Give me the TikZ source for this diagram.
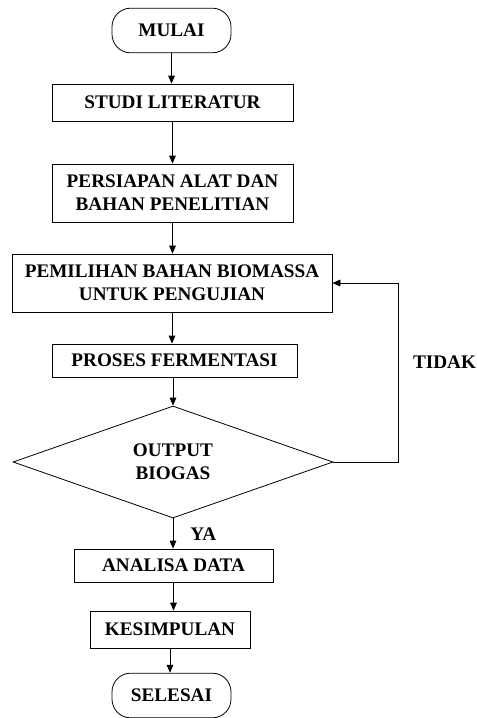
\documentclass[tikz,border=0pt]{standalone}
\usepackage{fontspec}
\setmainfont{Liberation Serif}
\usetikzlibrary{shapes.geometric,arrows.meta}
\begin{document}
\begin{tikzpicture}[x=0.75pt,y=0.75pt,yscale=-1,xscale=1,
	font=\fontsize{14.4}{17.5}\selectfont\bfseries,
	proc/.style={draw,line width=0.6pt,rectangle,align=center,inner sep=0pt},
	term/.style={draw,line width=0.6pt,rectangle,rounded corners=14pt,align=center,inner sep=0pt,minimum width=89.25pt,minimum height=33.5pt},
	arr/.style={line width=0.6pt,-{Triangle[length=6pt,width=5pt]}}]
			\useasboundingbox (0,0) rectangle (476,718);
			%Flowchart: Terminal
			\node [term] (mulai) at (171.5,30.5) {MULAI};
			%Flowchart: Process
			\node [proc,minimum width=180.75pt,minimum height=27.75pt] (studi) at (172.5,102.5) {STUDI LITERATUR};
			\node [proc,minimum width=180.75pt,minimum height=43.5pt] (persiapan) at (172.5,193) {PERSIAPAN ALAT DAN\\BAHAN PENELITIAN};
			\node [proc,minimum width=240pt,minimum height=43.5pt] (pemilihan) at (172,283) {PEMILIHAN BAHAN BIOMASSA\\UNTUK PENGUJIAN};
			\node [proc,minimum width=183.75pt,minimum height=24.75pt] (proses) at (174.5,360.5) {PROSES FERMENTASI};
			%Flowchart: Decision
			\node [draw,line width=0.6pt,diamond,aspect=2.857,inner sep=0pt,align=center,minimum width=240pt,minimum height=84pt] (output) at (173,462) {OUTPUT\\BIOGAS};
			\node [proc,minimum width=149.25pt,minimum height=24.75pt] (analisa) at (173.5,565.5) {ANALISA DATA};
			\node [proc,minimum width=120pt,minimum height=27.75pt] (kesimpulan) at (170,629.5) {KESIMPULAN};
			\node [term] (selesai) at (171.5,695.5) {SELESAI};
			%Straight Lines
			\draw [arr] (mulai.south) -- (mulai.south |- studi.north);
			\draw [arr] (studi.south) -- (studi.south |- persiapan.north);
			\draw [arr] (persiapan.south) -- (persiapan.south |- pemilihan.north);
			\draw [arr] (pemilihan.south) -- (pemilihan.south |- proses.north);
			\draw [arr] (output.north |- proses.south) -- (output.north);
			\draw [arr] (output.south) -- (output.south |- analisa.north);
			\draw [arr] (analisa.south) -- (analisa.south |- kesimpulan.north);
			\draw [arr] (kesimpulan.south) -- (kesimpulan.south |- selesai.north);
			%Loop back
			\coordinate (loop) at (398,462);
			\draw [arr] (output.east) -- (loop) |- (pemilihan.east);
			%Labels
			\node [inner sep=0pt] (tidak) at (444.5,362) {TIDAK};
			\node [anchor=west,inner sep=0pt] (ya) at (190,534) {YA};
\end{tikzpicture}
\end{document}
